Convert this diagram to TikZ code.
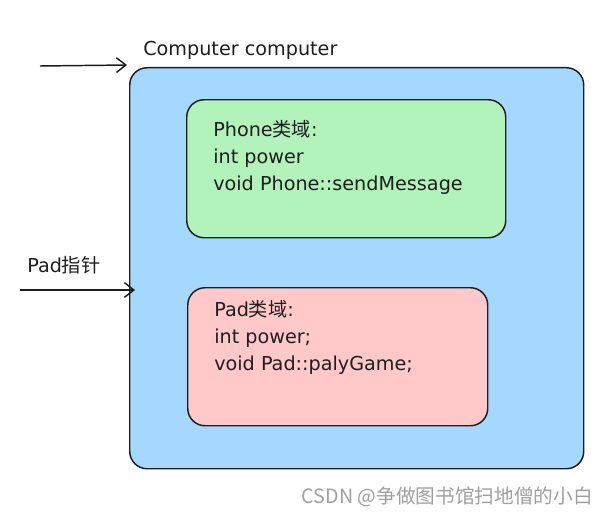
\documentclass[tikz,border=0pt]{standalone}
\usepackage{fontspec}
\setmainfont{DejaVu Sans}
\newfontfamily\cjk{Noto Sans CJK SC}
\newfontfamily\wm{Noto Sans CJK SC}
\usetikzlibrary{arrows.meta}
\definecolor{ink}{HTML}{1E1E1E}
\definecolor{bluefill}{HTML}{A5D8FF}
\definecolor{greenfill}{HTML}{B2F2BB}
\definecolor{redfill}{HTML}{FFC9C9}
\definecolor{wmgray}{HTML}{A0A0A0}
\begin{document}
\begin{tikzpicture}[x=0.75pt,y=-0.75pt,
  box/.style={draw=ink,line width=1.1pt,rounded corners=13pt,inner sep=0pt,anchor=north west},
  lbl/.style={anchor=west,inner sep=0pt,font=\fontsize{14.4pt}{20.25pt}\selectfont,text=ink,align=left},
  ptr/.style={draw=ink,line width=1.1pt,-{Straight Barb[length=7pt,width=11pt,line width=1.1pt]}}]
\useasboundingbox (0,0) rectangle (606,517);
\path[fill=white] (0,0) rectangle (606,517);
% boxes (sizes in pt = px*0.75)
\node[box,fill=bluefill,minimum width=340.5pt,minimum height=300.75pt] (comp) at (129,67) {};
\node[box,fill=greenfill,minimum width=239.25pt,minimum height=103.5pt] (phone) at (186,99) {};
\node[box,fill=redfill,minimum width=225pt,minimum height=103.5pt] (pad) at (187,287) {};
% texts
\node[lbl] (ctitle) at (143,50) {Computer computer};
\node[lbl] (padlbl) at (27,265) {Pad{\cjk 指针}};
\node[lbl,anchor=north west] (phonetxt) at (213,120) {Phone{\cjk 类域}:\\int power\\void Phone::sendMessage};
\node[lbl,anchor=north west] (padtxt) at (214,300) {Pad{\cjk 类域}:\\int power;\\void Pad::palyGame;};
% arrows
\coordinate (a1s) at (40,66);
\coordinate (a1e) at (127,65);
\coordinate (a2s) at (20,290);
\coordinate (a2e) at (135,290);
\draw[ptr] (a1s) -- (a1e);
\draw[ptr] (a2s) -- (a2e);
% watermark
\node[anchor=east,inner sep=0pt,text=wmgray,font=\wm\fontsize{14.75pt}{16pt}\selectfont] (wmk) at (593,497) {CSDN @争做图书馆扫地僧的小白};
\end{tikzpicture}
\end{document}
